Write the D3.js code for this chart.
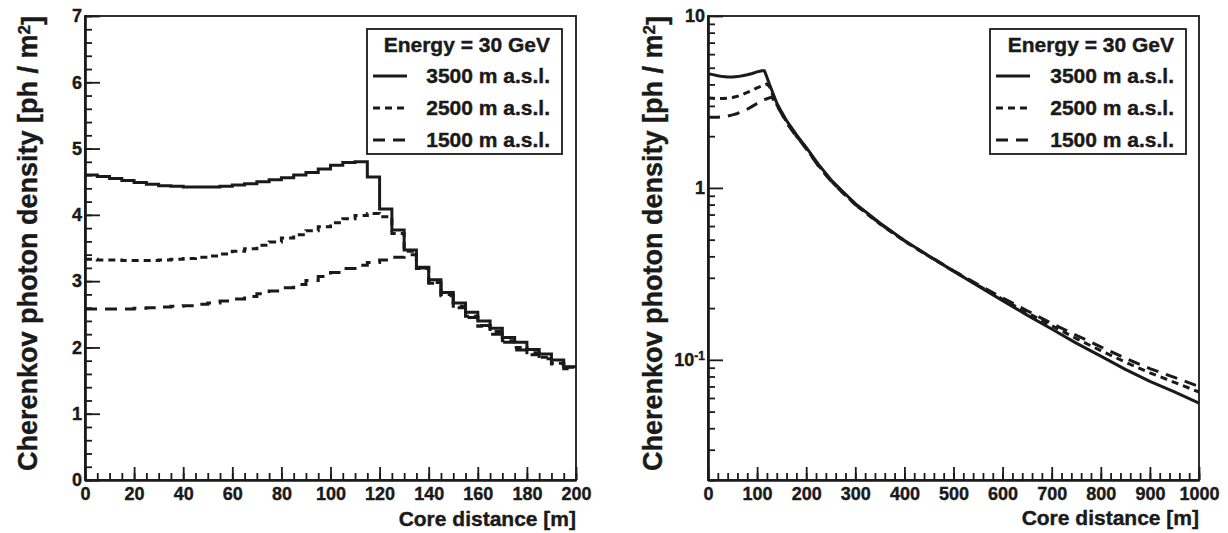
<!DOCTYPE html>
<html>
<head>
<meta charset="utf-8">
<script src="https://cdn.jsdelivr.net/npm/d3@7/dist/d3.min.js"></script>
<style>
  html, body { margin: 0; padding: 0; background: #fff; }
  svg { display: block; }
  text { font-family: "Liberation Sans", Arial, Helvetica, sans-serif; font-weight: bold; fill: #1a1a1a;
         stroke: #1a1a1a; stroke-width: 0.4px; }
</style>
</head>
<body>
<svg id="chart" width="1228" height="533"></svg>
<script>
// ---- Linear panel: 5 m histogram bins from 0 to 200 m ----
const binEdges = d3.range(0, 201, 5);   // 41 edges -> 40 bins
const linSolid3500 = [4.60, 4.58, 4.55, 4.52, 4.49, 4.46, 4.44, 4.43, 4.42, 4.42,
                      4.42, 4.43, 4.45, 4.47, 4.50, 4.53, 4.56, 4.60, 4.64, 4.69,
                      4.75, 4.79, 4.80, 4.57, 4.09, 3.77, 3.47, 3.21, 3.02, 2.83,
                      2.67, 2.53, 2.40, 2.29, 2.15, 2.08, 1.97, 1.90, 1.81, 1.71];
const linDotted2500 = [3.33, 3.32, 3.32, 3.31, 3.31, 3.31, 3.32, 3.33, 3.34, 3.36,
                       3.38, 3.41, 3.45, 3.49, 3.54, 3.59, 3.65, 3.70, 3.76, 3.82,
                       3.88, 3.94, 3.99, 4.02, 3.97, 3.72, 3.45, 3.19, 2.98, 2.80,
                       2.62, 2.47, 2.32, 2.24, 2.10, 2.00, 1.92, 1.85, 1.76, 1.70];
const linDashed1500 = [2.58, 2.58, 2.58, 2.58, 2.59, 2.60, 2.61, 2.62, 2.63, 2.65,
                       2.67, 2.70, 2.73, 2.77, 2.81, 2.85, 2.90, 2.95, 3.01, 3.07,
                       3.13, 3.19, 3.24, 3.28, 3.32, 3.36, 3.40, 3.20, 2.97, 2.78,
                       2.60, 2.45, 2.33, 2.20, 2.08, 1.96, 1.89, 1.83, 1.75, 1.68];

// ---- Log panel: density vs core distance out to 1000 m ----
const logDistance = [0, 10, 20, 30, 40, 50, 60, 70, 80, 90, 100, 110, 115, 120, 125, 130,
                     140, 150, 160, 170, 180, 190, 200, 225, 250, 275, 300, 350, 400, 450,
                     500, 550, 600, 650, 700, 750, 800, 850, 900, 950, 1000];
const logSolid3500 = [4.62, 4.56, 4.49, 4.44, 4.42, 4.42, 4.44, 4.49, 4.55, 4.63, 4.73, 4.80, 4.81, 4.40, 4.02, 3.70,
                      3.12, 2.76, 2.46, 2.24, 2.04, 1.87, 1.72, 1.37, 1.12, 0.95, 0.81, 0.625, 0.495, 0.402,
                      0.328, 0.269, 0.221, 0.182, 0.151, 0.125, 0.105, 0.088, 0.075, 0.065, 0.056];
const logDotted2500 = [3.33, 3.32, 3.31, 3.31, 3.33, 3.36, 3.41, 3.49, 3.59, 3.70, 3.82, 3.93, 3.98, 4.02, 3.90, 3.58,
                       3.05, 2.72, 2.42, 2.20, 2.00, 1.85, 1.70, 1.35, 1.10, 0.935, 0.80, 0.617, 0.490, 0.400,
                       0.328, 0.271, 0.225, 0.188, 0.158, 0.133, 0.113, 0.097, 0.084, 0.074, 0.065];
const logDashed1500 = [2.58, 2.58, 2.58, 2.60, 2.62, 2.66, 2.71, 2.79, 2.87, 2.98, 3.10, 3.21, 3.26, 3.30, 3.34, 3.38,
                       3.02, 2.70, 2.40, 2.18, 1.99, 1.84, 1.69, 1.34, 1.10, 0.935, 0.80, 0.620, 0.493, 0.402,
                       0.330, 0.274, 0.229, 0.193, 0.163, 0.139, 0.119, 0.102, 0.089, 0.079, 0.070];

// ---- Text ----
const legendTitle = "Energy = 30 GeV";
const seriesLabels = ["3500 m a.s.l.", "2500 m a.s.l.", "1500 m a.s.l."];
const xTitle = "Core distance [m]";
const yTitleMain = "Cherenkov photon density [ph / m";
const yTitleSup = "2";
const yTitleEnd = "]";

const dashes = ["none", "7,5", "12,8"];
const ink = "#1a1a1a";

const svg = d3.select("#chart");

function frame(g, x0, y0, x1, y1) {
  g.append("rect")
    .attr("x", x0).attr("y", y0)
    .attr("width", x1 - x0).attr("height", y1 - y0)
    .attr("fill", "none").attr("stroke", ink).attr("stroke-width", 1.8);
}

function yTitle(x, yTop) {
  const t = svg.append("text")
    .attr("transform", `translate(${x},${yTop}) rotate(-90)`)
    .attr("text-anchor", "end")
    .style("font-size", "27px");
  t.append("tspan").text(yTitleMain);
  t.append("tspan").attr("dy", "-0.42em").style("font-size", "17px").text(yTitleSup);
  t.append("tspan").attr("dy", "0.42em").text(yTitleEnd);
}

function xAxisTitle(xRight, yBase) {
  svg.append("text")
    .attr("x", xRight).attr("y", yBase)
    .attr("text-anchor", "end")
    .style("font-size", "21px")
    .text(xTitle);
}

function styleAxis(sel) {
  sel.select(".domain").attr("stroke", ink).attr("stroke-width", 2.2);
  sel.selectAll(".tick line").attr("stroke", ink).attr("stroke-width", 1.8);
  sel.selectAll(".tick text").style("font-size", "18px").attr("fill", ink);
}

function legend(x0, y0, w, h, textRight) {
  const g = svg.append("g");
  g.append("rect").attr("x", x0).attr("y", y0).attr("width", w).attr("height", h)
    .attr("fill", "#fff").attr("stroke", ink).attr("stroke-width", 1.8);
  g.append("text").attr("x", textRight).attr("y", y0 + 23)
    .attr("text-anchor", "end").style("font-size", "21px").text(legendTitle);
  seriesLabels.forEach((lab, i) => {
    const yb = y0 + 54 + i * 32;
    g.append("text").attr("x", textRight).attr("y", yb)
      .attr("text-anchor", "end").style("font-size", "21px").text(lab);
    g.append("line")
      .attr("x1", x0 + 6).attr("x2", x0 + 40)
      .attr("y1", yb - 7).attr("y2", yb - 7)
      .attr("stroke", ink).attr("stroke-width", 3)
      .attr("stroke-dasharray", dashes[i]);
  });
}

// ================= Left panel (linear) =================
{
  const L = 85, T = 16, R = 576, B = 480;
  const x = d3.scaleLinear().domain([0, 200]).range([L, R]);
  const y = d3.scaleLinear().domain([0, 7]).range([B, T]);

  const series = [linSolid3500, linDotted2500, linDashed1500];
  const line = d3.line().x(d => x(d[0])).y(d => y(d[1])).curve(d3.curveStepAfter);
  const gLines = svg.append("g");
  series.forEach((vals, i) => {
    const pts = vals.map((v, k) => [binEdges[k], v]);
    pts.push([binEdges[vals.length], vals[vals.length - 1]]);
    gLines.append("path").attr("d", line(pts))
      .attr("fill", "none").attr("stroke", ink).attr("stroke-width", 3)
      .attr("stroke-linejoin", "miter")
      .attr("stroke-dasharray", dashes[i]);
  });

  frame(svg, L, T, R, B);

  // minor ticks
  svg.append("g").attr("transform", `translate(0,${B})`)
    .call(d3.axisBottom(x).tickValues(d3.range(0, 201, 5)).tickSize(-7).tickSizeOuter(0).tickFormat(""))
    .call(styleAxis);
  svg.append("g").attr("transform", `translate(${L},0)`)
    .call(d3.axisLeft(y).tickValues(d3.range(0, 7.01, 0.2)).tickSize(-7).tickSizeOuter(0).tickFormat(""))
    .call(styleAxis);
  // major ticks + labels
  svg.append("g").attr("transform", `translate(0,${B})`)
    .call(d3.axisBottom(x).tickValues(d3.range(0, 201, 20)).tickSize(-13).tickSizeOuter(0).tickPadding(7).tickFormat(d3.format("d")))
    .call(styleAxis);
  svg.append("g").attr("transform", `translate(${L},0)`)
    .call(d3.axisLeft(y).tickValues(d3.range(0, 8, 1)).tickSize(-15).tickSizeOuter(0).tickPadding(3).tickFormat(d3.format("d")))
    .call(styleAxis);

  legend(367, 29, 195, 125, 550);
  yTitle(37, T);
  xAxisTitle(R, 526);
}

// ================= Right panel (log) =================
{
  const L = 708, T = 16, R = 1199, B = 480;
  const x = d3.scaleLinear().domain([0, 1000]).range([L, R]);
  const y = d3.scaleLog().domain([0.02, 10]).range([B, T]);

  const series = [logSolid3500, logDotted2500, logDashed1500];
  const line = d3.line().x(d => x(d[0])).y(d => y(d[1]));
  const gLines = svg.append("g");
  series.forEach((vals, i) => {
    const pts = vals.map((v, k) => [logDistance[k], v]);
    gLines.append("path").attr("d", line(pts))
      .attr("fill", "none").attr("stroke", ink).attr("stroke-width", 3)
      .attr("stroke-linejoin", "round")
      .attr("stroke-dasharray", dashes[i]);
  });

  frame(svg, L, T, R, B);

  const majors = [0.1, 1, 10];
  const minors = [];
  [0.01, 0.1, 1].forEach(dec => d3.range(2, 10).forEach(k => {
    const v = +(k * dec).toPrecision(3);
    if (v >= 0.02 && v <= 10) minors.push(v);
  }));

  svg.append("g").attr("transform", `translate(0,${B})`)
    .call(d3.axisBottom(x).tickValues(d3.range(0, 1001, 20)).tickSize(-7).tickSizeOuter(0).tickFormat(""))
    .call(styleAxis);
  svg.append("g").attr("transform", `translate(0,${B})`)
    .call(d3.axisBottom(x).tickValues(d3.range(0, 1001, 100)).tickSize(-13).tickSizeOuter(0).tickPadding(7).tickFormat(d3.format("d")))
    .call(styleAxis);
  svg.append("g").attr("transform", `translate(${L},0)`)
    .call(d3.axisLeft(y).tickValues(minors).tickSize(-7).tickSizeOuter(0).tickFormat(""))
    .call(styleAxis);
  svg.append("g").attr("transform", `translate(${L},0)`)
    .call(d3.axisLeft(y).tickValues(majors).tickSize(-15).tickSizeOuter(0).tickFormat(""))
    .call(styleAxis);

  // log labels with exponent for 10^-1
  majors.forEach(v => {
    const t = svg.append("text")
      .attr("x", L - 3).attr("y", y(v)).attr("dy", "0.35em")
      .attr("text-anchor", "end").style("font-size", "18px");
    if (v < 1) {
      t.append("tspan").text("10");
      t.append("tspan").attr("dy", "-0.5em").style("font-size", "12px").text("-1");
    } else {
      t.text(d3.format("d")(v));
    }
  });

  legend(990, 29, 196, 125, 1174);
  yTitle(662, T);
  xAxisTitle(R, 525);
}
</script>
</body>
</html>
